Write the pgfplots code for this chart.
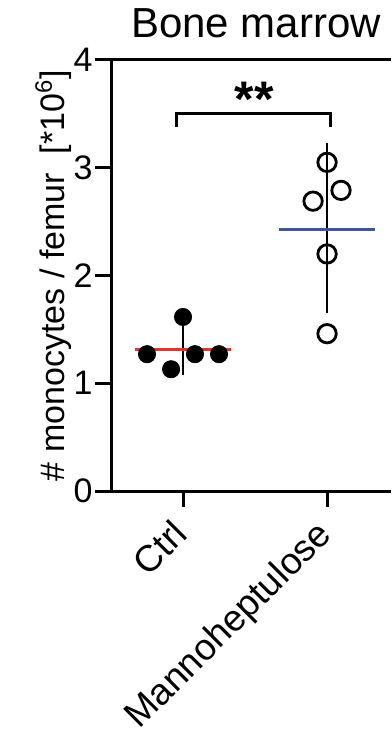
\documentclass[border=0pt]{standalone}
\usepackage{fontspec}
\setmainfont{Liberation Sans}
\usepackage{pgfplots}
\pgfplotsset{compat=1.18}
\definecolor{meanred}{RGB}{228,52,48}
\definecolor{meanblue}{RGB}{62,84,160}
\begin{document}
\begin{tikzpicture}
\begin{axis}[
  at={(0,0)}, anchor=south west,
  scale only axis, width=140pt, height=215.5pt,
  xmin=0.5, xmax=2.444, ymin=0, ymax=4,
  axis y line*=left, axis x line*=bottom,
  axis line style={line width=1.5pt},
  every tick/.style={black, line width=1.5pt},
  tick align=outside, major tick length=8pt,
  xtick={1,2}, xticklabels={Ctrl,Mannoheptulose},
  ytick={0,1,2,3,4},
  /pgf/number format/assume math mode=true,
  yticklabel style={font=\fontsize{17}{20}\selectfont, inner sep=1pt},
  xticklabel style={font=\fontsize{18.5}{22}\selectfont, rotate=45, anchor=north east, inner sep=2pt, xshift=-6pt, yshift=3pt},
  ylabel={\# monocytes / femur \ [*10\textsuperscript{6}]},
  ylabel style={font=\fontsize{17}{20}\selectfont, at={(rel axis cs:-0.166,0.5)}, anchor=base},
  clip=false,
]
% error bars
\addplot[black, line width=1.3pt] coordinates {(1,1.08) (1,1.56)};
\addplot[black, line width=1.3pt] coordinates {(2,1.65) (2,3.23)};
% Ctrl points
\addplot[only marks, mark=*, mark size=4.3pt, mark options={fill=black, draw=black}] coordinates {
 (0.75,1.27) (0.917,1.13) (1.0,1.615) (1.083,1.27) (1.25,1.27)};
% Mannoheptulose points
\addplot[only marks, mark=o, mark size=4.6pt, mark options={draw=black, line width=1.4pt, fill=white}] coordinates {
 (2.0,3.05) (2.097,2.79) (1.903,2.69) (2.0,2.20) (2.0,1.46)};
% means
\addplot[meanred, line width=1.5pt] coordinates {(0.667,1.31) (1.333,1.31)};
\addplot[meanblue, line width=1.5pt] coordinates {(1.667,2.43) (2.333,2.43)};
% significance bracket
\addplot[black, line width=1.5pt] coordinates {(0.958,3.378) (0.958,3.508) (2.021,3.508) (2.021,3.378)};
\node[anchor=base, font=\fontsize{25}{28}\selectfont\bfseries, inner sep=0pt] at (axis cs:1.493,3.48) {**};
\draw[line width=1.5pt] (rel axis cs:0,1) -- (rel axis cs:1,1);
\end{axis}
\node[anchor=base, font=\fontsize{21}{25}\selectfont, inner sep=0pt] at (72.5pt,226.5pt) {Bone marrow};
\pgfresetboundingbox
\path[use as bounding box] (-55.5pt,-120pt) rectangle (140pt,245.5pt);
\end{tikzpicture}
\end{document}
